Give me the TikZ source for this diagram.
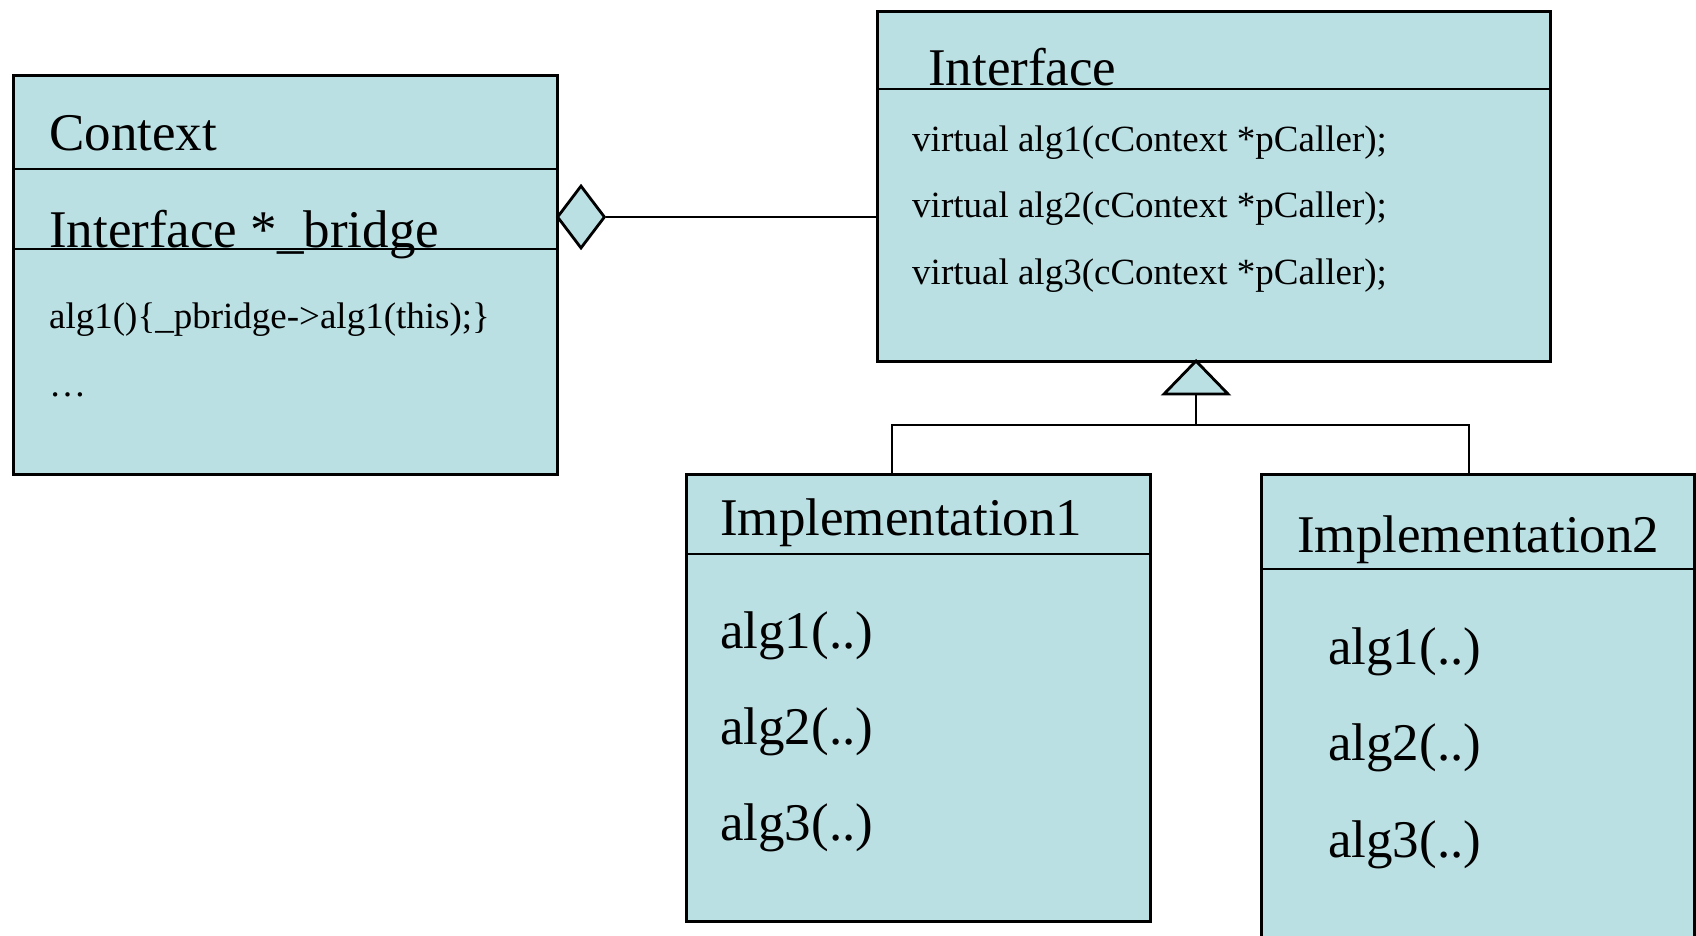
\documentclass[tikz,border=0pt]{standalone}
\usepackage{fontspec}
\setmainfont{Liberation Serif}
\usetikzlibrary{shapes.geometric}
\definecolor{classfill}{RGB}{187,224,227}
\tikzset{
  classbox/.style={draw=black, fill=classfill, line width=2.8pt, rectangle,
    inner sep=0pt, anchor=north west},
  bigtext/.style={font=\fontsize{53}{60}\selectfont, inner sep=0pt, anchor=base west},
  smalltext/.style={font=\fontsize{37}{44}\selectfont, inner sep=0pt, anchor=base west},
  rule/.style={line width=2.8pt},
  aggmark/.style={draw=black, fill=classfill, line width=2.8pt, diamond,
    inner sep=0pt, minimum width=48pt, minimum height=63pt},
}
\begin{document}
\begin{tikzpicture}[x=1pt,y=-1pt]
\useasboundingbox (0,0) rectangle (1696,936);

% Context class
\node[classbox, minimum width=544pt, minimum height=399pt] (ctx) at (12,74) {};
\draw[rule] (ctx.west |- 0,169) -- (ctx.east |- 0,169);
\draw[rule] (ctx.west |- 0,249) -- (ctx.east |- 0,249);
\node[bigtext] (ctxname) at (49,151) {Context};
\node[bigtext] (ctxattr) at (49,247) {Interface *\_bridge};
\node[smalltext] (ctxop1) at (49,328) {alg1()\{\_pbridge->alg1(this);\}};
\node[smalltext] (ctxop2) at (49,396) {…};

% Interface class
\node[classbox, minimum width=673pt, minimum height=350pt] (iface) at (876,10) {};
\draw[rule] (iface.west |- 0,89) -- (iface.east |- 0,89);
\node[bigtext] (ifname) at (928,86) {Interface};
\node[smalltext] (ifop1) at (912,152) {virtual alg1(cContext *pCaller);};
\node[smalltext] (ifop2) at (912,218) {virtual alg2(cContext *pCaller);};
\node[smalltext] (ifop3) at (912,284) {virtual alg3(cContext *pCaller);};

% Aggregation
\node[aggmark] (agg) at (581,217) {};
\draw[rule] (agg.east) -- (agg.east -| iface.west);

% Implementation1 class
\node[classbox, minimum width=464pt, minimum height=447pt] (impl1) at (685,473) {};
\draw[rule] (impl1.west |- 0,554) -- (impl1.east |- 0,554);
\node[bigtext] (im1name) at (720,535) {Implementation1};
\node[bigtext] (im1op1) at (720,648) {alg1(..)};
\node[bigtext] (im1op2) at (720,744) {alg2(..)};
\node[bigtext] (im1op3) at (720,840) {alg3(..)};

% Implementation2 class
\node[classbox, minimum width=433pt, minimum height=490pt] (impl2) at (1260,473) {};
\draw[rule] (impl2.west |- 0,569) -- (impl2.east |- 0,569);
\node[bigtext] (im2name) at (1297,552) {Implementation2};
\node[bigtext] (im2op1) at (1328,664) {alg1(..)};
\node[bigtext] (im2op2) at (1328,760) {alg2(..)};
\node[bigtext] (im2op3) at (1328,857) {alg3(..)};

% Generalization
\coordinate (tip) at (1196,361);
\coordinate (tbase) at (1196,394);
\coordinate (junc) at (1196,425);
\coordinate (drop1) at (892,425);
\coordinate (drop2) at (1469,425);
\draw[rule, fill=classfill, line join=miter] (tip) -- ([xshift=32pt]tbase) -- ([xshift=-32pt]tbase) -- cycle;
\draw[rule] (tbase) -- (junc);
\draw[rule] (drop1 |- impl1.north) -- (drop1) -- (drop2) -- (drop2 |- impl2.north);
\end{tikzpicture}
\end{document}
